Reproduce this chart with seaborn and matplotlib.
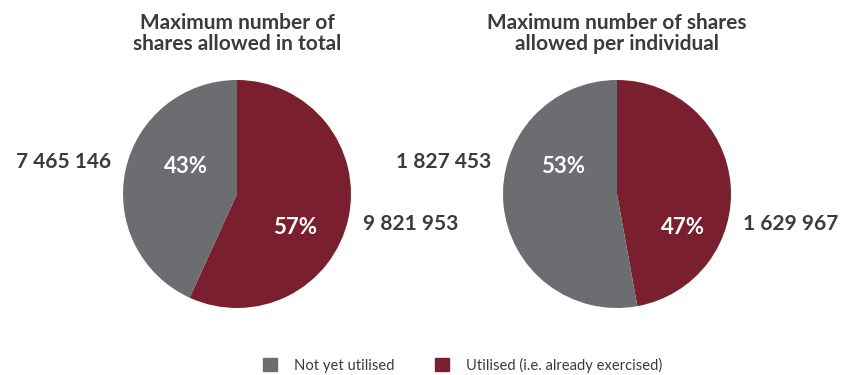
import numpy as np
import pandas as pd
import matplotlib
matplotlib.use("Agg")
import matplotlib.pyplot as plt
from matplotlib.patches import Patch
import seaborn as sns

# -------------------------
# Data
# -------------------------
titles = ["Maximum number of\nshares allowed in total",
          "Maximum number of shares\nallowed per individual"]
categories = ["Utilised (i.e. already exercised)", "Not yet utilised"]
utilised = [9821953, 1629967]
not_utilised = [7465146, 1827453]
pct_utilised = ["57%", "47%"]
pct_not_utilised = ["43%", "53%"]

# -------------------------
# Style
# -------------------------
sns.set_theme(style="white")
plt.rcParams["font.family"] = ["Lato", "DejaVu Sans"]
red, grey = sns.color_palette(["#7a1f2d", "#6c6d70"])
text_col = "#3b3b3d"

def fmt(n):
    return f"{n:,}".replace(",", " ")

fig = plt.figure(figsize=(8.41, 3.75), dpi=100)
axes = [fig.add_axes([123 / 841, 1 - 308 / 375, 228 / 841, 228 / 375]),
        fig.add_axes([503 / 841, 1 - 308 / 375, 228 / 841, 228 / 375])]

# label positions inside the pie (fraction of radius)
pct_pos = [((-0.45, 0.24), (0.51, -0.29)),
           ((-0.47, 0.24), (0.58, -0.29))]

for i, ax in enumerate(axes):
    vals = [utilised[i], not_utilised[i]]
    ax.pie(vals, colors=[red, grey], startangle=90, counterclock=False,
           radius=1, wedgeprops=dict(linewidth=0))
    ax.set_xlim(-1, 1)
    ax.set_ylim(-1, 1)
    ax.set_aspect("equal")
    ax.axis("off")

    (gx, gy), (rx, ry) = pct_pos[i]
    ax.text(gx, gy, pct_not_utilised[i], color="white", fontsize=16,
            fontweight="bold", ha="center", va="center")
    ax.text(rx, ry, pct_utilised[i], color="white", fontsize=16,
            fontweight="bold", ha="center", va="center")

    ax.text(-1.52, 0.28, fmt(not_utilised[i]), color=text_col, fontsize=15,
            fontweight="bold", ha="center", va="center")
    ax.text(1.52, -0.26, fmt(utilised[i]), color=text_col, fontsize=15,
            fontweight="bold", ha="center", va="center")

    ax.text(0, 1.41, titles[i], color=text_col, fontsize=15, fontweight="bold",
            ha="center", va="center", linespacing=1.05)

handles = [Patch(color=grey, label=categories[1]),
           Patch(color=red, label=categories[0])]
fig.legend(handles=handles, loc="center", bbox_to_anchor=(0.55, 1 - 365 / 375),
           ncol=2, frameon=False, fontsize=10.6, handlelength=1.0, handleheight=1.0,
           columnspacing=2.7, handletextpad=1.15, labelcolor=text_col)

fig.savefig("out.png", dpi=100)
